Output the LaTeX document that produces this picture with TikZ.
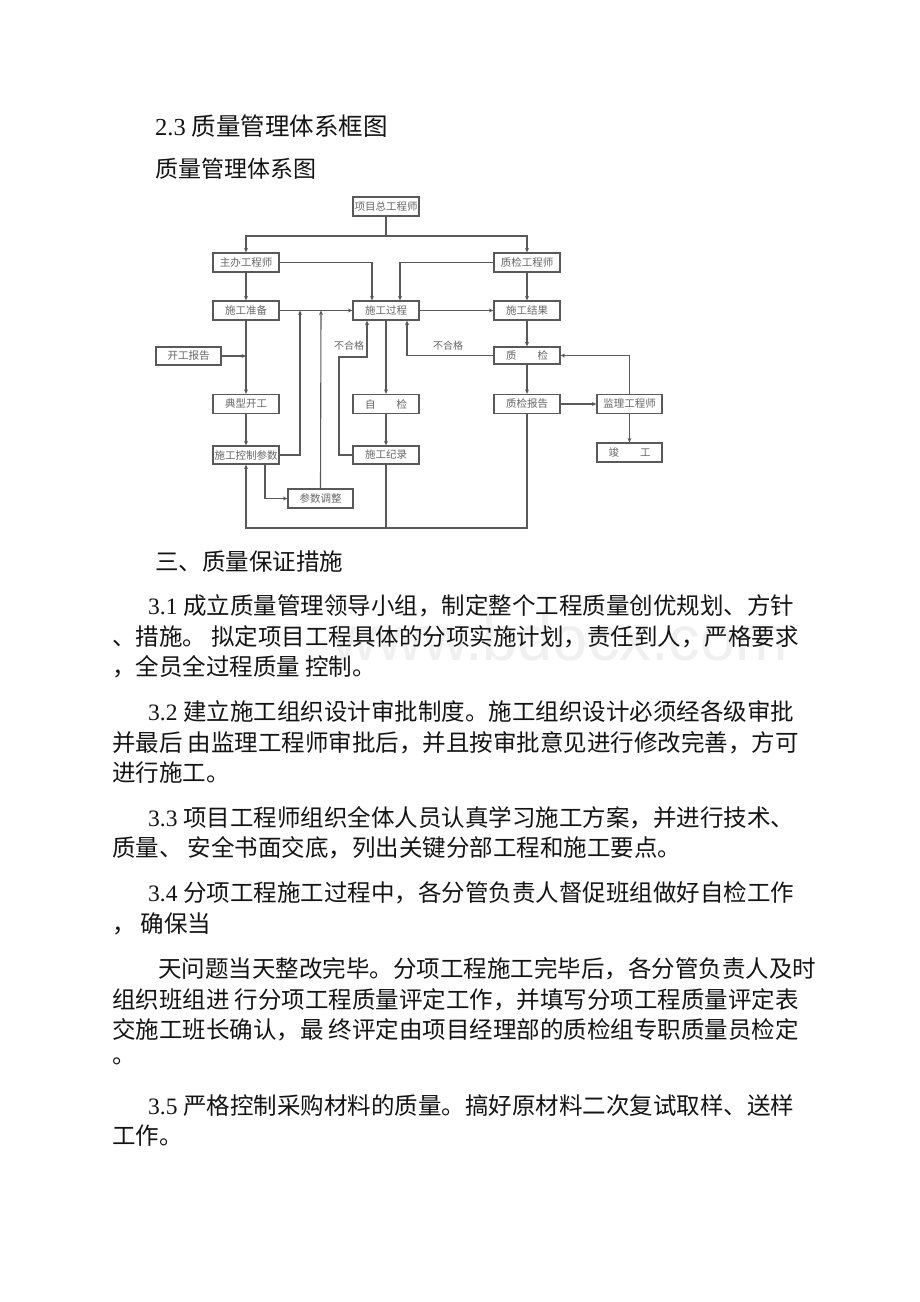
\documentclass[tikz,border=0pt]{standalone}
\usepackage{fontspec}
\setmainfont{Noto Sans CJK SC}
\newfontfamily\lat{Liberation Serif}
\newfontfamily\wm{Liberation Sans}
\usetikzlibrary{arrows.meta}
\tikzset{
  box/.style={draw=black!65, line width=1.3pt, minimum width=66pt, minimum height=19pt, inner sep=0pt,
    font=\fontsize{10.5}{12}\selectfont, text=black!60},
  ln/.style={draw=black!65, line width=1.1pt},
  arr/.style={ln, -{Stealth[length=4.5pt,width=4pt]}},
  lbl/.style={inner sep=0pt, font=\fontsize{10}{12}\selectfont, text=black!60},
  txt/.style={anchor=west, inner sep=0pt, font=\fontsize{23.5}{28}\selectfont, text=black!92},
}
\begin{document}
\begin{tikzpicture}[x=1pt,y=-1pt]
\fill[white] (0,0) rectangle (920,1302);
\useasboundingbox (0,0) rectangle (920,1302);

% watermark
\node[text=black!6, font=\wm\fontsize{63}{63}\selectfont, inner sep=0pt] (wmk) at (560,638) {www.bdocx.com};

% headings
\node[txt, font=\fontsize{24.5}{28}\selectfont] (h1) at (155,126) {{\lat 2.3 }质量管理体系框图};
\node[txt, font=\fontsize{23}{28}\selectfont] (h2) at (155,169) {质量管理体系图};

% diagram boxes
\node[box] (zong) at (386,206.5) {项目总工程师};
\node[box] (zhuban) at (246,262.5) {主办工程师};
\node[box] (zjgcs) at (527,262.5) {质检工程师};
\node[box] (zhunbei) at (246,310.5) {施工准备};
\node[box] (guocheng) at (386,310.5) {施工过程};
\node[box] (jieguo) at (527,310.5) {施工结果};
\node[box, minimum width=65pt, minimum height=18pt] (kaigong) at (188.5,356) {开工报告};
\node[box, minimum height=17pt] (zhijian) at (527,355.5) {质\hspace{2em}检};
\node[box] (dianxing) at (246,404) {典型开工};
\node[box] (zijian) at (386,404) {自\hspace{2em}检};
\node[box] (baogao) at (527,404) {质检报告};
\node[box, minimum width=65pt] (jianli) at (629.5,404) {监理工程师};
\node[box, minimum height=18pt] (kongzhi) at (246,455) {施工控制参数};
\node[box, minimum height=18pt] (jilu) at (386,455) {施工纪录};
\node[box, minimum width=65pt] (jungong) at (629.5,452.5) {竣\hspace{2em}工};
\node[box, minimum width=65pt] (tiaozheng) at (320.5,498.5) {参数调整};

% connectors
\coordinate (t1) at (386,236);
\draw[ln] (zong.south) -- (t1);
\draw[arr] (t1) -| (zhuban.north);
\draw[arr] (t1) -| (zjgcs.north);
\draw[arr] (zhuban.east) -| ([xshift=-14pt]guocheng.north);
\draw[arr] (zjgcs.west) -| ([xshift=14pt]guocheng.north);
\draw[arr] (zhuban) -- (zhunbei);
\draw[arr] (zjgcs) -- (jieguo);
\draw[arr] (zhunbei) -- (guocheng);
\draw[arr] (guocheng) -- (jieguo);
\draw[arr] (jieguo) -- (zhijian);
\draw[arr] (zhijian.west) -| ([xshift=21pt]guocheng.south);
\node[lbl] (bhg1) at (448,346) {不合格};
\draw[arr] (jianli.north) |- (zhijian.east);
\draw[arr] (zhijian) -- (baogao);
\draw[arr] (baogao) -- (jianli);
\draw[arr] (jianli) -- (jungong);

\coordinate (k1) at (246,356);
\draw[arr] (kaigong.east) -- (k1);
\draw[arr] (zhunbei) -- (dianxing);
\draw[arr] (dianxing) -- (kongzhi);
\coordinate (j1) at (300,310.5);
\draw[arr] (kongzhi.east) -| (j1);
\coordinate (j2) at (321,310.5);
\draw[arr] (tiaozheng.north) -- (j2);
\draw[arr] ([xshift=19pt]kongzhi.south) |- (tiaozheng.west);

\draw[arr] (guocheng) -- (zijian);
\draw[arr] (zijian) -- (jilu);
\coordinate (b1) at (339,357);
\draw[arr] (jilu.west) -| (b1) -| ([xshift=-19pt]guocheng.south);
\node[lbl] (bhg2) at (349,346) {不合格};

\coordinate (c1) at (527,528);
\coordinate (c2) at (246,528);
\draw[arr] (baogao.south) -- (c1) -- (c2) -- (kongzhi.south);
\draw[ln] (jilu.south) -- (jilu.south |- c1);

% section text
\node[txt] (s3) at (155,562) {三、质量保证措施};

\node[txt] (p1a) at (148,606) {{\lat 3.1 }成立质量管理领导小组，制定整个工程质量创优规划、方针};
\node[txt] (p1b) at (112,637) {、措施。 拟定项目工程具体的分项实施计划，责任到人，严格要求};
\node[txt] (p1c) at (112,667) {，全员全过程质量 控制。};

\node[txt] (p2a) at (148,712) {{\lat 3.2 }建立施工组织设计审批制度。施工组织设计必须经各级审批};
\node[txt] (p2b) at (112,743) {并最后 由监理工程师审批后，并且按审批意见进行修改完善，方可};
\node[txt] (p2c) at (112,773) {进行施工。};

\node[txt] (p3a) at (148,818) {{\lat 3.3 }项目工程师组织全体人员认真学习施工方案，并进行技术、};
\node[txt] (p3b) at (112,848) {质量、 安全书面交底，列出关键分部工程和施工要点。};

\node[txt] (p4a) at (148,893) {{\lat 3.4 }分项工程施工过程中，各分管负责人督促班组做好自检工作};
\node[txt] (p4b) at (112,924) {， 确保当};

\node[txt] (p5a) at (158,969) {天问题当天整改完毕。分项工程施工完毕后，各分管负责人及时};
\node[txt] (p5b) at (112,1000) {组织班组进 行分项工程质量评定工作，并填写分项工程质量评定表};
\node[txt] (p5c) at (112,1030) {交施工班长确认，最 终评定由项目经理部的质检组专职质量员检定};
\node[txt] (p5d) at (112,1061) {。};

\node[txt] (p6a) at (148,1106) {{\lat 3.5 }严格控制采购材料的质量。搞好原材料二次复试取样、送样};
\node[txt] (p6b) at (112,1136) {工作。};
\end{tikzpicture}
\end{document}
